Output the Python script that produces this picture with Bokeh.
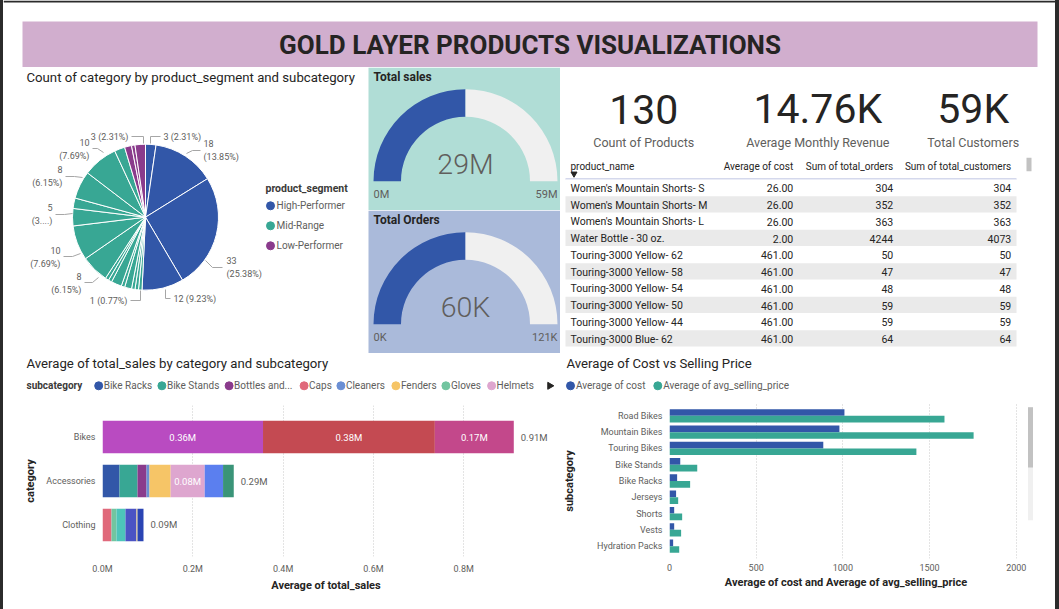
import numpy as np
from bokeh.plotting import figure
from bokeh.models import Range1d, FactorRange, ColumnDataSource, Spacer, FixedTicker, CustomJSTickFormatter
from bokeh.layouts import row, column
from bokeh.core.properties import value
from bokeh.transform import dodge
from bokeh.embed import file_html
from bokeh.resources import INLINE

# ---------------- data ----------------
dashboard_title = "GOLD LAYER PRODUCTS VISUALIZATIONS"

segments = ["High-Performer", "Mid-Range", "Low-Performer"]
pie_segment = ["High-Performer"] * 4 + ["Mid-Range"] * 15 + ["Low-Performer"] * 3
pie_count = [3, 18, 33, 12,
             1, 1, 1, 2, 1, 3, 1, 1, 8, 10, 5, 3, 8, 10, 3,
             2, 1, 3]

total_sales = 29.36e6
total_sales_max = 58.71e6
total_orders = 60.4e3
total_orders_max = 120.8e3

avg_monthly_revenue = 14760
total_customers = 58900
kpi_labels = ["Count of Products", "Average Monthly Revenue", "Total Customers"]

table_columns = ["product_name", "Average of cost", "Sum of total_orders", "Sum of total_customers"]
product_name = ["Women's Mountain Shorts- S", "Women's Mountain Shorts- M", "Women's Mountain Shorts- L",
                "Water Bottle - 30 oz.", "Touring-3000 Yellow- 62", "Touring-3000 Yellow- 58",
                "Touring-3000 Yellow- 54", "Touring-3000 Yellow- 50", "Touring-3000 Yellow- 44",
                "Touring-3000 Blue- 62"]
avg_cost = [26, 26, 26, 2, 461, 461, 461, 461, 461, 461]
sum_total_orders = [304, 352, 363, 4244, 50, 47, 48, 59, 59, 64]
sum_total_customers = [304, 352, 363, 4073, 50, 47, 48, 59, 59, 64]

categories = ["Bikes", "Accessories", "Clothing"]
subcategories = ["Bike Racks", "Bike Stands", "Bottles and Cages", "Caps", "Cleaners", "Fenders",
                 "Gloves", "Helmets", "Hydration Packs", "Jerseys", "Mountain Bikes", "Road Bikes",
                 "Shorts", "Socks", "Tires and Tubes", "Touring Bikes", "Vests"]
subcat_category = ["Accessories", "Accessories", "Accessories", "Clothing", "Accessories", "Accessories",
                   "Clothing", "Accessories", "Accessories", "Clothing", "Bikes", "Bikes",
                   "Clothing", "Clothing", "Accessories", "Bikes", "Clothing"]
subcat_avg_sales_m = [0.0377, 0.0399, 0.0199, 0.0199, 0.0066, 0.0468,
                      0.0111, 0.0755, 0.0406, 0.0199, 0.3555, 0.3806,
                      0.0244, 0.0022, 0.0237, 0.1748, 0.0133]
subcat_colors = ["#3257A8", "#38A794", "#8A3B8C", "#E0697B", "#6B8FD4", "#F6C567",
                 "#72C5A0", "#DEA6CF", "#5B7FEF", "#4DC4BA", "#B94BC1", "#C44A52",
                 "#4B53C4", "#F3D37A", "#3A9478", "#C3488B", "#2A44B4"]

cost_subcats = ["Road Bikes", "Mountain Bikes", "Touring Bikes", "Bike Stands", "Bike Racks",
                "Jerseys", "Shorts", "Vests", "Hydration Packs"]
sub_avg_cost = [1009, 980, 887, 62, 44, 38, 27, 27, 21]
sub_avg_selling_price = [1586, 1754, 1424, 160, 119, 50, 73, 67, 56]

# ---------------- styles ----------------
FONT = "Roboto"
LIGHT = "Roboto Light"
DARK = "#252423"
GRAY = "#605E5C"
BLUE = "#3257A8"
GREEN = "#38A794"
PURPLE = "#8A3B8C"
seg_color = dict(zip(segments, [BLUE, GREEN, PURPLE]))
TITLE_SIZE = 13.2


def pix_fig(x0, x1, y0, y1):
    p = figure(width=x1 - x0, height=y1 - y0, x_range=Range1d(x0, x1), y_range=Range1d(-y1, -y0),
               output_backend="svg", toolbar_location=None, x_axis_type=None, y_axis_type=None,
               min_border=0, outline_line_color=None)
    p.background_fill_color = "white"
    p.border_fill_color = "white"
    p.grid.visible = False
    return p


def T(p, xs, ys, texts, size, color=DARK, align="left", bold=False, font=FONT, baseline="middle"):
    p.text(x=list(xs), y=[-y for y in ys], text=list(texts), text_font=value(font),
           text_font_size=f"{size}px", text_color=color, text_align=align, text_baseline=baseline,
           text_font_style="bold" if bold else "normal")


def fmt_short(v, unit):
    if unit == "M":
        return f"{round(v / 1e6)}M"
    return f"{round(v / 1e3)}K"


# ---------------- header ----------------
hdr = pix_fig(3, 1055, 0, 67)
hdr.quad(left=[3], right=[1055], top=[0], bottom=[-2], fill_color="#2B2B2B", line_color=None)
hdr.quad(left=[22], right=[1037], top=[-21], bottom=[-67], fill_color="#D1AECE", line_color=None)
T(hdr, [529.5], [44.5], [dashboard_title], 26, color=DARK, align="center", bold=True)

# ---------------- pie ----------------
pie = pix_fig(3, 365, 67, 353)
T(pie, [26], [76.5], ["Count of category by product_segment and subcategory"], TITLE_SIZE, color=DARK)
CX, CY, R = 145, 216.7, 73
tot = sum(pie_count)
cum = np.cumsum([0] + pie_count)
a0 = np.pi / 2 - cum[:-1] / tot * 2 * np.pi
a1 = np.pi / 2 - cum[1:] / tot * 2 * np.pi
pie_src = ColumnDataSource(dict(start=a0, end=a1, color=[seg_color[s] for s in pie_segment], count=pie_count))
pie.wedge(x=CX, y=-CY, radius=R, start_angle="start", end_angle="end", direction="clock",
          fill_color="color", line_color="white", line_width=1, source=pie_src)

# label layout: slice index -> (align, text x, text center y, two lines, leader points, truncated)
pie_labels = [
    (0, "left", 163, 136, False, [(150, 143), (150, 136), (160, 136)], False),
    (1, "left", 203, 150, True, [(186, 153), (192, 150), (200, 150)], False),
    (2, "left", 226, 267, True, [(205, 260), (212, 267), (222, 267)], False),
    (3, "left", 173, 298, False, [(165, 289), (165, 298), (170, 298)], False),
    (4, "right", 127, 300, False, [(140, 290), (140, 300), (130, 300)], False),
    (12, "right", 81, 282.5, True, [(98, 277), (92, 282), (84, 282)], False),
    (13, "right", 60, 256.5, True, [(80, 253), (72, 256), (63, 256)], False),
    (14, "right", 52, 214, True, [(72, 213), (64, 214), (55, 214)], True),
    (16, "right", 62, 176, True, [(82, 177), (74, 176), (65, 176)], False),
    (17, "right", 89, 148.5, True, [(103, 152), (97, 148), (92, 148)], False),
    (21, "right", 128, 136, False, [(143, 143), (143, 136), (131, 136)], False),
]
for idx, align, tx, ty, two, pts, trunc in pie_labels:
    c = pie_count[idx]
    pct = f"({c / tot * 100:.2f}%)"
    if trunc:
        pct = pct[:2] + "....)"
    pie.line(x=[q[0] for q in pts], y=[-q[1] for q in pts], line_color="#A6A6A6", line_width=1)
    if two:
        T(pie, [tx, tx], [ty - 6.8, ty + 6.8], [str(c), pct], 9, color=GRAY, align=align)
    else:
        T(pie, [tx], [ty], [f"{c} {pct}"], 9, color=GRAY, align=align)

# pie legend
T(pie, [265], [188], ["product_segment"], 10.5, color="#3B3A39", bold=True)
leg_y = [205.3, 225.3, 245.3]
pie.scatter(x=[270] * 3, y=[-y for y in leg_y], size=8, color=[seg_color[s] for s in segments])
T(pie, [276] * 3, leg_y, segments, 10, color=GRAY)


# ---------------- gauges ----------------
def gauge(y0, y1, bg, title, val, vmax, unit):
    g = pix_fig(365, 560, y0, y1)
    g.quad(left=[368], right=[560], top=[-y0], bottom=[-y1], fill_color=bg, line_color=None)
    T(g, [373], [y0 + 9.5], [title], 12, color=DARK, bold=True)
    cx, cy = 465, y0 + 113.8
    frac = val / vmax
    g.annular_wedge(x=cx, y=-cy, inner_radius=64.5, outer_radius=92,
                    start_angle=[np.pi, np.pi * (1 - frac)], end_angle=[np.pi * (1 - frac), 0],
                    direction="clock", fill_color=[BLUE, "#F0F0F0"], line_color=None)
    T(g, [cx], [y0 + 97.3], [fmt_short(val, unit)], 28.5, color=GRAY, align="center", font=LIGHT)
    T(g, [373], [y0 + 127], ["0" + unit], 11, color=GRAY)
    T(g, [557], [y0 + 127], [fmt_short(vmax, unit)], 11, color=GRAY, align="right")
    return g


g1 = gauge(67, 210, "#B0DDD6", "Total sales", total_sales, total_sales_max, "M")
g2 = gauge(210, 353, "#AABADA", "Total Orders", total_orders, total_orders_max, "K")

# ---------------- KPIs + table ----------------
kt = pix_fig(560, 1055, 67, 353)
kpi_values = [str(sum(pie_count)), f"{avg_monthly_revenue / 1000:.2f}K", f"{round(total_customers / 1000)}K"]
kpi_x = [643.3, 817.3, 972.7]
T(kt, kpi_x, [108.5] * 3, kpi_values, 41, color=DARK, align="center")
T(kt, kpi_x, [142.3] * 3, kpi_labels, 12.5, color=GRAY, align="center")

col_x = [570, 792.7, 892.7, 1010.7]
col_align = ["left", "right", "right", "right"]
for x, a, h in zip(col_x, col_align, table_columns):
    T(kt, [x], [165.7], [h], 10, color=DARK, align=a)
kt.scatter(x=[573.5], y=[-173.3], marker="inverted_triangle", size=6, color=DARK)
kt.line(x=[565, 1016], y=[-178.5, -178.5], line_color="#C6CBE6", line_width=1.5)
n = len(product_name)
ROW_TOP, ROW_H = 179.0, 16.75
idx = np.arange(n)
tops = ROW_TOP + idx * ROW_H
shade = ["#FFFFFF" if i % 2 == 0 else "#EAEAEA" for i in idx]
kt.quad(left=565, right=1016, top=-tops, bottom=-(tops + ROW_H - 0.6), fill_color=shade, line_color=None)
yc = tops + ROW_H / 2 + 0.6
T(kt, [col_x[0]] * n, yc, product_name, 10.5, color=DARK)
T(kt, [col_x[1]] * n, yc, [f"{v:.2f}" for v in avg_cost], 10.5, color=DARK, align="right")
T(kt, [col_x[2]] * n, yc, [str(v) for v in sum_total_orders], 10.5, color=DARK, align="right")
T(kt, [col_x[3]] * n, yc, [str(v) for v in sum_total_customers], 10.5, color=DARK, align="right")
kt.quad(left=[1026], right=[1031], top=[-157.3], bottom=[-170.7], fill_color="#C2C2C2", line_color=None)


# ---------------- helpers for charts ----------------
def style_axes(p, xlabel, ylabel, x_standoff, ylabel_standoff):
    for ax in (p.xaxis, p.yaxis):
        ax.axis_line_color = None
        ax.major_tick_line_color = None
        ax.minor_tick_line_color = None
        ax.major_tick_in = 0
        ax.major_tick_out = 0
        ax.minor_tick_out = 0
        ax.major_label_text_font = FONT
        ax.major_label_text_font_size = "9px"
        ax.major_label_text_color = GRAY
        ax.axis_label_text_font = FONT
        ax.axis_label_text_font_size = "11px"
        ax.axis_label_text_font_style = "bold"
        ax.axis_label_text_color = DARK
    p.xaxis.axis_label = xlabel
    p.yaxis.axis_label = ylabel
    p.xaxis.major_label_standoff = x_standoff
    p.xaxis.axis_label_standoff = 2
    p.yaxis.major_label_standoff = 7
    p.yaxis.axis_label_standoff = ylabel_standoff
    p.ygrid.visible = False
    p.xgrid.grid_line_color = "#C8C8C8"
    p.xgrid.grid_line_dash = "1 2"
    p.outline_line_color = None
    p.background_fill_color = "white"
    p.border_fill_color = "white"


def short(s, n=14):
    return s if len(s) <= n else s[:11] + "..."


# ---------------- bottom-left: stacked bars ----------------
blh = pix_fig(3, 560, 353, 398)
T(blh, [26], [363], ["Average of total_sales by category and subcategory"], TITLE_SIZE, color=DARK)
T(blh, [26], [385.3], ["subcategory"], 10, color="#3B3A39", bold=True)
leg_x = [98.2, 161.4, 228.6, 303.6, 340.4, 395.4, 445.4, 491.1]
k = len(leg_x)
blh.scatter(x=leg_x, y=[-385.3] * k, size=8, color=subcat_colors[:k])
T(blh, [x + 5 for x in leg_x], [385.3] * k, [short(s) for s in subcategories[:k]], 10, color=GRAY)
blh.scatter(x=[549.3], y=[-385.3], marker="triangle", angle=-np.pi / 2, size=7, color=DARK)

bl = figure(width=557, height=211, y_range=FactorRange(factors=categories[::-1], range_padding=0.144),
            x_range=Range1d(0, 0.99), output_backend="svg", toolbar_location=None,
            min_border_left=99, min_border_right=11, min_border_top=7, min_border_bottom=53)
style_axes(bl, "Average of total_sales", "category", 7, 6)
bl.xaxis.ticker = FixedTicker(ticks=[0, 0.2, 0.4, 0.6, 0.8])
bl.xaxis.formatter = CustomJSTickFormatter(code="return tick.toFixed(1) + 'M';")
stack_data = {"category": categories}
for s, c, v in zip(subcategories, subcat_category, subcat_avg_sales_m):
    stack_data[s] = [v if cat == c else 0.0 for cat in categories]
bl.hbar_stack(subcategories, y="category", height=0.74, color=subcat_colors,
              source=ColumnDataSource(stack_data), line_color=None)
in_x, in_y, in_t, tot_x, tot_y, tot_t = [], [], [], [], [], []
for cat in categories:
    run = 0.0
    for s in subcategories:
        v = stack_data[s][categories.index(cat)]
        if v >= 0.07:
            in_x.append(run + v / 2)
            in_y.append(cat)
            in_t.append(f"{v:.2f}M")
        run += v
    tot_x.append(run)
    tot_y.append(cat)
    tot_t.append(f"{run:.2f}M")
bl.text(x=in_x, y=in_y, text=in_t, text_font=value(FONT), text_font_size="9.5px", text_color="white",
        text_align="center", text_baseline="middle")
bl.text(x=tot_x, y=tot_y, text=tot_t, x_offset=7, text_font=value(FONT), text_font_size="9.5px",
        text_color=GRAY, text_align="left", text_baseline="middle")

# ---------------- bottom-right: cost vs price ----------------
brh = pix_fig(560, 1055, 353, 398)
T(brh, [566], [363], ["Average of Cost vs Selling Price"], TITLE_SIZE, color=DARK)
brh.scatter(x=[570, 657.3], y=[-385.3, -385.3], size=8, color=[BLUE, GREEN])
T(brh, [575.5, 662.8], [385.3, 385.3], ["Average of cost", "Average of avg_selling_price"], 10, color=GRAY)

br = figure(width=467, height=211, y_range=FactorRange(factors=cost_subcats[::-1], range_padding=0.0573),
            x_range=Range1d(0, 2036), output_backend="svg", toolbar_location=None,
            min_border_left=109, min_border_right=5, min_border_top=5, min_border_bottom=51)
style_axes(br, "Average of cost and Average of avg_selling_price", "subcategory", 5, 18)
br.xaxis.ticker = FixedTicker(ticks=[0, 500, 1000, 1500, 2000])
src2 = ColumnDataSource(dict(sub=cost_subcats, cost=sub_avg_cost, price=sub_avg_selling_price))
br.hbar(y=dodge("sub", 0.205, range=br.y_range), left=0, right="cost", height=0.41,
        color=BLUE, line_color=None, source=src2)
br.hbar(y=dodge("sub", -0.205, range=br.y_range), left=0, right="price", height=0.41,
        color=GREEN, line_color=None, source=src2)

scr = pix_fig(1027, 1055, 398, 609)
scr.quad(left=[1027.5], right=[1032.5], top=[-403], bottom=[-557], fill_color="#F0F0F0", line_color=None)
scr.quad(left=[1027.5], right=[1032.5], top=[-403], bottom=[-485], fill_color="#C2C2C2", line_color=None)

# ---------------- layout ----------------
content = column(
    hdr,
    row(pie, column(g1, g2, spacing=0), kt, spacing=0),
    row(column(blh, row(bl, spacing=0), spacing=0),
        column(brh, row(br, scr, spacing=0), spacing=0), spacing=0),
    spacing=0,
)
page = row(Spacer(width=3, height=609, styles={"background-color": "#2B2B2B"}),
           content,
           Spacer(width=4, height=609, styles={"background-color": "#2B2B2B"}),
           spacing=0)

open("out.html", "w").write(file_html(page, INLINE))
